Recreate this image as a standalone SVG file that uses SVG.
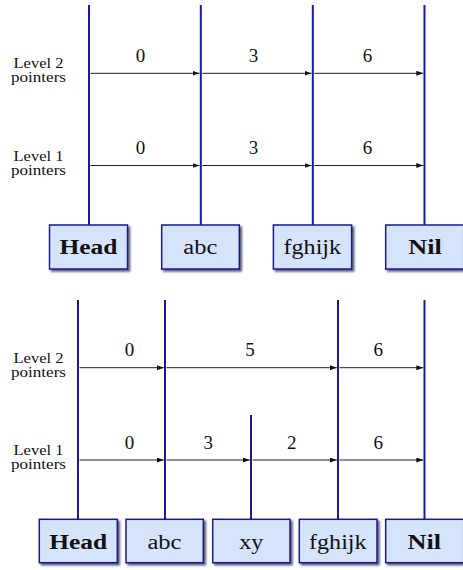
<svg xmlns="http://www.w3.org/2000/svg" width="463" height="570" viewBox="0 0 463 570" font-family="Liberation Serif, DejaVu Serif, serif">
<style>
.box{fill:#d5e3fb;stroke:#1c1c86;stroke-width:1.5;filter:url(#sh)}
.tower{stroke:#1a1a9a;stroke-width:2;fill:none}
.ptr{stroke:#222;stroke-width:1;fill:none;marker-end:url(#ah)}
text{fill:#111;text-anchor:middle}
.lbl{font-size:14px}
.num{font-size:19px}
.key{font-size:20px}
.bold{font-weight:bold}
</style>
<defs>
<marker id="ah" markerUnits="userSpaceOnUse" markerWidth="8" markerHeight="6" refX="7" refY="2.5" orient="auto">
<path d="M0,0 L7,2.5 L0,5 z" fill="#111"/>
</marker>
<filter id="sh" x="-10%" y="-10%" width="130%" height="140%">
<feGaussianBlur in="SourceAlpha" stdDeviation="1.3" result="b"/>
<feOffset in="b" dx="2" dy="2" result="o"/>
<feFlood flood-color="#000030" flood-opacity="0.65"/>
<feComposite in2="o" operator="in" result="s"/>
<feMerge><feMergeNode in="s"/><feMergeNode in="SourceGraphic"/></feMerge>
</filter>
</defs>

<g id="top-labels">
<text class="lbl" x="38.5" y="68" textLength="50" lengthAdjust="spacingAndGlyphs">Level 2</text>
<text class="lbl" x="38.5" y="82" textLength="55" lengthAdjust="spacingAndGlyphs">pointers</text>
<text class="lbl" x="38.5" y="160.5" textLength="50" lengthAdjust="spacingAndGlyphs">Level 1</text>
<text class="lbl" x="38.5" y="174.5" textLength="55" lengthAdjust="spacingAndGlyphs">pointers</text>
</g>

<g id="top-head">
<line class="tower" x1="89" y1="5" x2="89" y2="225"/>
<rect class="box" x="49.5" y="225" width="78" height="44"/>
<text class="key bold" x="88.5" y="254.3" textLength="58" lengthAdjust="spacingAndGlyphs">Head</text>
</g>
<g id="top-abc">
<line class="tower" x1="200.8" y1="5" x2="200.8" y2="225"/>
<rect class="box" x="161.7" y="225" width="77.6" height="44"/>
<text class="key" x="200.3" y="254.3" textLength="34" lengthAdjust="spacingAndGlyphs">abc</text>
</g>
<g id="top-fghijk">
<line class="tower" x1="312.8" y1="5" x2="312.8" y2="225"/>
<rect class="box" x="273.4" y="225" width="78.2" height="44"/>
<text class="key" x="312.3" y="254.3" textLength="57.5" lengthAdjust="spacingAndGlyphs">fghijk</text>
</g>
<g id="top-nil">
<line class="tower" x1="424.5" y1="5" x2="424.5" y2="225"/>
<rect class="box" x="385.7" y="225" width="78" height="44"/>
<text class="key bold" x="425" y="254.3" textLength="33.5" lengthAdjust="spacingAndGlyphs">Nil</text>
</g>

<g id="top-connectors">
<line class="ptr" x1="90.5" y1="73.3" x2="199.5" y2="73.3"/>
<line class="ptr" x1="202.3" y1="73.3" x2="311.5" y2="73.3"/>
<line class="ptr" x1="314.3" y1="73.3" x2="423.3" y2="73.3"/>
<line class="ptr" x1="90.5" y1="165.5" x2="199.5" y2="165.5"/>
<line class="ptr" x1="202.3" y1="165.5" x2="311.5" y2="165.5"/>
<line class="ptr" x1="314.3" y1="165.5" x2="423.3" y2="165.5"/>
<text class="num" x="140.5" y="62">0</text>
<text class="num" x="253.5" y="62">3</text>
<text class="num" x="367.5" y="62">6</text>
<text class="num" x="140.5" y="154">0</text>
<text class="num" x="253.5" y="154">3</text>
<text class="num" x="367.5" y="154">6</text>
</g>

<g id="bottom-labels">
<text class="lbl" x="38.5" y="362.7" textLength="50" lengthAdjust="spacingAndGlyphs">Level 2</text>
<text class="lbl" x="38.5" y="376.7" textLength="55" lengthAdjust="spacingAndGlyphs">pointers</text>
<text class="lbl" x="38.5" y="455" textLength="50" lengthAdjust="spacingAndGlyphs">Level 1</text>
<text class="lbl" x="38.5" y="469" textLength="55" lengthAdjust="spacingAndGlyphs">pointers</text>
</g>

<g id="bottom-head">
<line class="tower" x1="78" y1="300" x2="78" y2="519.3"/>
<rect class="box" x="39.3" y="519.3" width="78" height="43.4"/>
<text class="key bold" x="78.2" y="548.8" textLength="58" lengthAdjust="spacingAndGlyphs">Head</text>
</g>
<g id="bottom-abc">
<line class="tower" x1="165" y1="300" x2="165" y2="519.3"/>
<rect class="box" x="126" y="519.3" width="77.3" height="43.4"/>
<text class="key" x="164.5" y="548.8" textLength="34" lengthAdjust="spacingAndGlyphs">abc</text>
</g>
<g id="bottom-xy">
<line class="tower" x1="251" y1="415" x2="251" y2="519.3"/>
<rect class="box" x="212.7" y="519.3" width="77.3" height="43.4"/>
<text class="key" x="251.3" y="548.8" textLength="24" lengthAdjust="spacingAndGlyphs">xy</text>
</g>
<g id="bottom-fghijk">
<line class="tower" x1="338" y1="300" x2="338" y2="519.3"/>
<rect class="box" x="299.3" y="519.3" width="77.7" height="43.4"/>
<text class="key" x="337.8" y="548.8" textLength="57.5" lengthAdjust="spacingAndGlyphs">fghijk</text>
</g>
<g id="bottom-nil">
<line class="tower" x1="424.5" y1="300" x2="424.5" y2="519.3"/>
<rect class="box" x="385.7" y="519.3" width="78" height="43.4"/>
<text class="key bold" x="424.3" y="548.8" textLength="33.5" lengthAdjust="spacingAndGlyphs">Nil</text>
</g>

<g id="bottom-connectors">
<line class="ptr" x1="79.5" y1="367.7" x2="163.8" y2="367.7"/>
<line class="ptr" x1="166.5" y1="367.7" x2="336.8" y2="367.7"/>
<line class="ptr" x1="339.5" y1="367.7" x2="423.3" y2="367.7"/>
<line class="ptr" x1="79.5" y1="460" x2="163.8" y2="460"/>
<line class="ptr" x1="166.5" y1="460" x2="249.8" y2="460"/>
<line class="ptr" x1="252.5" y1="460" x2="336.8" y2="460"/>
<line class="ptr" x1="339.5" y1="460" x2="423.3" y2="460"/>
<text class="num" x="129.5" y="356">0</text>
<text class="num" x="250" y="356">5</text>
<text class="num" x="378.3" y="356">6</text>
<text class="num" x="129.5" y="448.5">0</text>
<text class="num" x="208.3" y="448.5">3</text>
<text class="num" x="291.7" y="448.5">2</text>
<text class="num" x="378.3" y="448.5">6</text>
</g>
</svg>
